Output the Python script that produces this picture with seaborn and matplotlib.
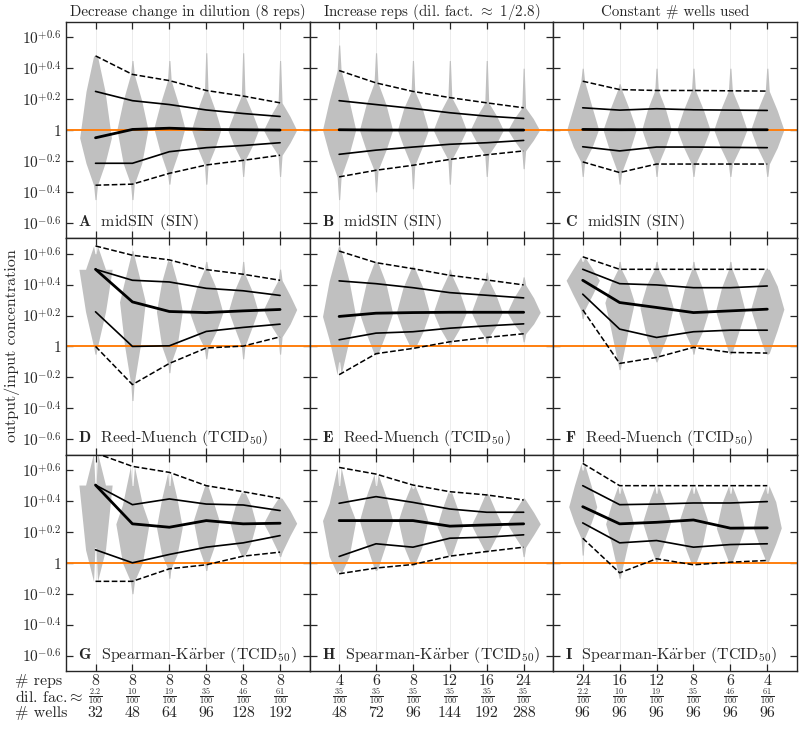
import numpy as np
import pandas as pd
import matplotlib
matplotlib.use("Agg")
import matplotlib.pyplot as plt
import matplotlib.transforms as mtrans
import seaborn as sns

# ---------------- data (log10 of output/input concentration) ----------------
col_titles = ["Decrease change in dilution (8 reps)",
              r"Increase reps (dil. fact. $\approx$ 1/2.8)",
              "Constant # wells used"]
row_methods = ["midSIN (SIN)", r"Reed-Muench (TCID$_{50}$)",
               r"Spearman-K$\ddot{\mathrm{a}}$rber (TCID$_{50}$)"]
panel_letters = [["A", "B", "C"], ["D", "E", "F"], ["G", "H", "I"]]

reps_labels = [["8", "8", "8", "8", "8", "8"],
               ["4", "6", "8", "12", "16", "24"],
               ["24", "16", "12", "8", "6", "4"]]
dil_labels = [["2.2", "10", "19", "35", "46", "61"],
              ["35", "35", "35", "35", "35", "35"],
              ["2.2", "10", "19", "35", "46", "61"]]
wells_labels = [["32", "48", "64", "96", "128", "192"],
                ["48", "72", "96", "144", "192", "288"],
                ["96", "96", "96", "96", "96", "96"]]

# quantile lines: [upper dashed, upper solid, median, lower solid, lower dashed]
A_lines = [[0.48, 0.36, 0.32, 0.256, 0.22, 0.176],
           [0.25, 0.19, 0.165, 0.13, 0.107, 0.088],
           [-0.05, 0.004, 0.012, 0.004, 0.002, 0.0],
           [-0.215, -0.215, -0.14, -0.114, -0.10, -0.082],
           [-0.357, -0.35, -0.28, -0.226, -0.196, -0.163]]
B_lines = [[0.385, 0.305, 0.25, 0.21, 0.176, 0.144],
           [0.19, 0.165, 0.14, 0.112, 0.09, 0.075],
           [0.002, 0.0, 0.0, 0.0, 0.0, 0.0],
           [-0.157, -0.13, -0.11, -0.092, -0.082, -0.067],
           [-0.303, -0.26, -0.228, -0.19, -0.16, -0.135]]
C_lines = [[0.316, 0.262, 0.256, 0.256, 0.254, 0.252],
           [0.144, 0.129, 0.138, 0.131, 0.129, 0.127],
           [0.004, 0.002, 0.003, 0.002, 0.002, 0.002],
           [-0.108, -0.135, -0.11, -0.11, -0.112, -0.114],
           [-0.206, -0.275, -0.22, -0.22, -0.22, -0.22]]
D_lines = [[0.65, 0.59, 0.56, 0.497, 0.467, 0.428],
           [0.499, 0.428, 0.417, 0.376, 0.36, 0.33],
           [0.499, 0.288, 0.226, 0.219, 0.23, 0.239],
           [0.224, 0.0, 0.004, 0.097, 0.123, 0.144],
           [0.0, -0.247, -0.11, -0.01, 0.002, 0.062]]
E_lines = [[0.617, 0.542, 0.503, 0.46, 0.43, 0.398],
           [0.424, 0.406, 0.38, 0.348, 0.331, 0.314],
           [0.194, 0.215, 0.219, 0.221, 0.221, 0.221],
           [0.043, 0.086, 0.095, 0.118, 0.133, 0.146],
           [-0.183, -0.047, -0.013, 0.03, 0.058, 0.082]]
F_lines = [[0.58, 0.499, 0.499, 0.499, 0.499, 0.499],
           [0.499, 0.406, 0.398, 0.38, 0.38, 0.391],
           [0.428, 0.284, 0.252, 0.219, 0.23, 0.241],
           [0.338, 0.112, 0.058, 0.095, 0.105, 0.105],
           [0.237, -0.11, -0.071, -0.006, -0.039, -0.043]]
G_lines = [[0.71, 0.624, 0.585, 0.499, 0.46, 0.417],
           [0.503, 0.376, 0.413, 0.38, 0.374, 0.338],
           [0.503, 0.252, 0.23, 0.273, 0.252, 0.256],
           [0.084, 0.0, 0.054, 0.101, 0.129, 0.176],
           [-0.12, -0.12, -0.039, -0.013, 0.043, 0.069]]
H_lines = [[0.617, 0.574, 0.503, 0.46, 0.439, 0.406],
           [0.385, 0.428, 0.391, 0.348, 0.327, 0.327],
           [0.273, 0.273, 0.273, 0.237, 0.245, 0.252],
           [0.041, 0.123, 0.101, 0.159, 0.166, 0.181],
           [-0.071, -0.034, -0.011, 0.043, 0.073, 0.101]]
I_lines = [[0.643, 0.499, 0.499, 0.499, 0.499, 0.499],
           [0.499, 0.376, 0.38, 0.387, 0.387, 0.396],
           [0.363, 0.252, 0.262, 0.277, 0.224, 0.226],
           [0.258, 0.129, 0.144, 0.101, 0.118, 0.123],
           [0.159, -0.065, 0.026, -0.013, 0.004, 0.015]]

# grey distributions: peak half-width (category units), top and bottom extent
A_width = [0.43, 0.42, 0.42, 0.40, 0.42, 0.45]
A_top = [0.48, 0.45, 0.45, 0.50, 0.50, 0.45]
A_bot = [-0.45, -0.45, -0.35, -0.35, -0.30, -0.30]
B_width = [0.45, 0.45, 0.42, 0.45, 0.45, 0.43]
B_top = [0.55, 0.50, 0.45, 0.45, 0.45, 0.40]
B_bot = [-0.45, -0.40, -0.38, -0.35, -0.30, -0.25]
C_width = [0.43, 0.45, 0.40, 0.45, 0.45, 0.45]
C_top = [0.40, 0.30, 0.40, 0.40, 0.40, 0.40]
C_bot = [-0.30, -0.35, -0.30, -0.30, -0.30, -0.30]
D_width = [0.45, 0.35, 0.35, 0.45, 0.40, 0.45]
D_top = [0.60, 0.62, 0.55, 0.55, 0.55, 0.50]
D_bot = [-0.05, -0.35, -0.17, -0.08, -0.08, -0.05]
E_width = [0.45, 0.45, 0.45, 0.45, 0.42, 0.45]
E_top = [0.65, 0.55, 0.52, 0.50, 0.48, 0.45]
E_bot = [-0.10, -0.05, 0.0, 0.0, 0.02, 0.03]
F_width = [0.45, 0.40, 0.45, 0.40, 0.40, 0.45]
F_top = [0.55, 0.55, 0.55, 0.55, 0.55, 0.50]
F_bot = [0.18, -0.15, -0.10, -0.05, -0.05, -0.05]
G_width = [0.45, 0.45, 0.35, 0.35, 0.35, 0.45]
G_top = [0.50, 0.50, 0.50, 0.50, 0.45, 0.42]
G_bot = [0.10, -0.20, -0.10, -0.05, 0.04, 0.04]
H_width = [0.45, 0.45, 0.40, 0.35, 0.42, 0.45]
H_top = [0.50, 0.50, 0.48, 0.45, 0.45, 0.42]
H_bot = [-0.05, -0.05, -0.02, 0.05, 0.07, 0.04]
I_width = [0.38, 0.38, 0.38, 0.38, 0.38, 0.38]
I_top = [0.60, 0.45, 0.45, 0.45, 0.45, 0.45]
I_bot = [0.05, -0.10, 0.0, 0.0, 0.0, 0.0]

y_ticks = [-0.6, -0.4, -0.2, 0.0, 0.2, 0.4, 0.6]
y_ticklabels = [r"$10^{-0.6}$", r"$10^{-0.4}$", r"$10^{-0.2}$", r"$1$",
                r"$10^{+0.2}$", r"$10^{+0.4}$", r"$10^{+0.6}$"]

panel_lines = [[A_lines, B_lines, C_lines], [D_lines, E_lines, F_lines],
               [G_lines, H_lines, I_lines]]
panel_width = [[A_width, B_width, C_width], [D_width, E_width, F_width],
               [G_width, H_width, I_width]]
panel_top = [[A_top, B_top, C_top], [D_top, E_top, F_top], [G_top, H_top, I_top]]
panel_bot = [[A_bot, B_bot, C_bot], [D_bot, E_bot, F_bot], [G_bot, H_bot, I_bot]]

# ---------------- style ----------------
sns.set_style("ticks")
plt.rcParams["font.family"] = ["cmr10", "DejaVu Serif"]
plt.rcParams["mathtext.fontset"] = "cm"
plt.rcParams["axes.unicode_minus"] = False
plt.rcParams["axes.linewidth"] = 1.0

GREY = "#c0c0c0"
ORANGE = "#ff7f0e"
profile = np.array([0.12, 0.6, 1.0, 0.6, 0.12])

fig, axes = plt.subplots(3, 3, figsize=(8.0, 7.29), dpi=100)
fig.subplots_adjust(left=0.0825, right=0.996, top=0.970, bottom=0.0796,
                    wspace=0, hspace=0)

x = np.arange(6)
for r in range(3):
    for c in range(3):
        ax = axes[r][c]
        lines = panel_lines[r][c]
        widths = panel_width[r][c]
        tops = panel_top[r][c]
        bots = panel_bot[r][c]
        for i in range(6):
            ax.axvline(i, color="#ececec", lw=0.7, zorder=0)
            ys = [tops[i]] + [lines[k][i] for k in range(5)] + [bots[i]]
            ws = np.concatenate([[0.015], profile * widths[i], [0.015]])
            ax.fill_betweenx(ys, i - ws, i + ws, color=GREY, lw=0, zorder=1)
        ax.axhline(0, color=ORANGE, lw=1.4, zorder=2)
        styles = [("--", 1.1), ("-", 1.2), ("-", 2.0), ("-", 1.2), ("--", 1.1)]
        for k, (ls, lw) in enumerate(styles):
            sns.lineplot(x=x, y=lines[k], ax=ax, color="black", linewidth=lw,
                         linestyle=ls, zorder=3)
        ax.set_xlim(-0.8, 5.8)
        ax.set_ylim(-0.7, 0.7)
        ax.set_xticks(x)
        ax.set_yticks(y_ticks)
        ax.set_yticklabels(y_ticklabels)
        ax.tick_params(direction="in", top=True, right=True, length=5,
                       width=0.9, labelsize=11)
        ax.tick_params(axis="x", labelbottom=False)
        if c > 0:
            ax.tick_params(axis="y", labelleft=False)
        ax.set_xlabel("")
        ax.set_ylabel("")
        ax.text(0.05, 0.075, r"$\mathbf{%s}$  %s" % (panel_letters[r][c], row_methods[r]),
                transform=ax.transAxes, fontsize=11.5, ha="left", va="center")
        for sp in ax.spines.values():
            sp.set_visible(True)
        if r == 0:
            ax.set_title(col_titles[c], fontsize=10.8, pad=4)

# bottom table of labels
for c in range(3):
    ax = axes[2][c]
    tr = mtrans.blended_transform_factory(ax.transData, ax.transAxes)
    for i in range(6):
        ax.text(i, -0.045, reps_labels[c][i], transform=tr, ha="center",
                va="center", fontsize=11.5)
        ax.text(i, -0.118, r"$\frac{%s}{100}$" % dil_labels[c][i], transform=tr,
                ha="center", va="center", fontsize=8.5)
        ax.text(i, -0.194, wells_labels[c][i], transform=tr, ha="center",
                va="center", fontsize=11.5)

fig.text(0.019, 1 - 681 / 729, "# reps", ha="left", va="center", fontsize=11.5)
fig.text(0.019, 1 - 697 / 729, r"dil. fac.$\approx$", ha="left", va="center", fontsize=11.5)
fig.text(0.019, 1 - 713 / 729, "# wells", ha="left", va="center", fontsize=11.5)

fig.text(0.015, 1 - 346 / 729, "output/input concentration", rotation=90,
         ha="center", va="center", fontsize=11.5)

fig.savefig("out.png", dpi=100)
